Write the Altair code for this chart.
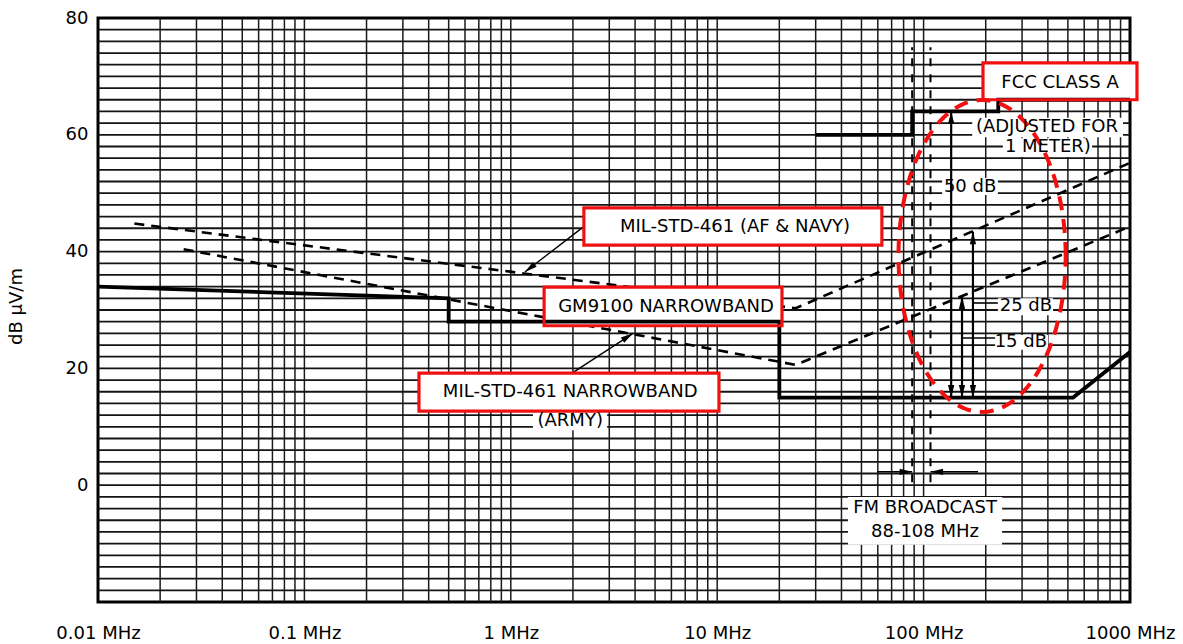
import math
import numpy as np
import pandas as pd
import altair as alt

# Plot area and axis ranges
W, H = 1032, 584
F_MIN, F_MAX = 0.01, 1000.0        # MHz
DB_MIN, DB_MAX = -20, 80           # dB µV/m
FONT = "DejaVu Sans"

# ---- limit curves (frequency in MHz, level in dB µV/m) ----
gm_f = [0.01, 0.5, 0.5, 20, 20, 530, 1000]
gm_db = [34, 32, 28, 28, 15, 15, 22.8]

af_navy_f = [0.015, 24, 1000]
af_navy_db = [44.8, 30.3, 55.2]

army_f = [0.026, 24, 1000]
army_db = [40.4, 20.6, 44.3]

fcc_f = [30, 88, 88, 230, 230, 1000]
fcc_db = [60, 60, 64, 64, 66, 66]

# FM broadcast band edges (MHz)
fm_band = [88, 108]
fm_top_db, fm_bottom_db = 75, 0.5

# ---- axis ticks / grid ----
x_label_vals = [0.01, 0.1, 1, 10, 100, 1000]
y_label_vals = [0, 20, 40, 60, 80]
grid_f = [k * 10.0 ** e for e in range(-2, 3) for k in range(1, 10)][1:]
grid_db = list(range(-18, 80, 2))

# ---- margin arrows: (f, db_top, db_bottom) ----
span_f = [136, 153.5, 173.4]
span_top_db = [64, 32.3, 43.4]
span_bottom_db = [15, 15, 15]

# ---- annotation boxes (red frames) ----
box_f1 = [2.26, 1.45, 0.359, 194]
box_f2 = [62.8, 20.6, 10.2, 1081]
box_d1 = [41.1, 27.3, 12.7, 66.0]
box_d2 = [47.5, 33.9, 19.2, 72.3]

# ---- white backgrounds behind free-standing text ----
bg_f1 = [1.28, 172, 242, 43.0, 123, 229, 222]
bg_f2 = [2.93, 925, 655, 240, 229, 424, 401]
bg_d1 = [9.4, 59.6, 56.2, -10.2, 49.7, 29.1, 23.2]
bg_d2 = [12.4, 62.9, 59.4, -2.0, 52.6, 32.0, 25.7]

# ---- text ----
txt = ["MIL-STD-461 (AF & NAVY)", "GM9100 NARROWBAND", "MIL-STD-461 NARROWBAND",
       "(ARMY)", "FCC CLASS A", "(ADJUSTED FOR", "1 METER)", "50 dB", "25 dB",
       "15 dB", "FM BROADCAST", "88-108 MHz"]
txt_f = [12.2, 5.65, 1.94, 1.94, 458, 396, 400, 168, 313, 296, 101.6, 101.6]
txt_db = [44.2, 30.5, 16.0, 11.0, 68.9, 61.3, 57.9, 51.1, 30.7, 24.5, -3.9, -8.0]

# ---- leader arrows (tail -> head) ----
lead_f1 = [2.24, 1.98]
lead_d1 = [44.2, 19.2]
lead_f2 = [1.17, 3.91]
lead_d2 = [36.5, 26.0]

# ---- highlighted region (ellipse centre / radii) ----
ell_fc, ell_dc = 192, 39.25
ell_rx_dec, ell_ry_db = 0.405, 26.7


def to_px(f, db):
    x = math.log10(f / F_MIN) / math.log10(F_MAX / F_MIN) * W
    y = (DB_MAX - db) / (DB_MAX - DB_MIN) * H
    return x, y


def heading(f1, d1, f2, d2):
    """Clockwise screen angle (deg) of the direction tail->head, 0 = up."""
    x1, y1 = to_px(f1, d1)
    x2, y2 = to_px(f2, d2)
    return math.degrees(math.atan2(x2 - x1, -(y2 - y1))) % 360


xs = alt.Scale(type="log", domain=[F_MIN, F_MAX], nice=False)
ys = alt.Scale(domain=[DB_MIN, DB_MAX], nice=False, zero=False)

X_AXIS = alt.Axis(
    values=x_label_vals, labelExpr="datum.value + ' MHz'", grid=False,
    ticks=False, domain=False, title=None, labelFont=FONT, labelFontSize=18,
    labelPadding=22, labelFlush=False, labelOverlap=False, labelColor="black")
Y_AXIS = alt.Axis(
    values=y_label_vals, grid=False, ticks=False, domain=False,
    title="dB μV/m", titleFont=FONT, titleFontSize=18, titleFontWeight="normal",
    titleX=-82, titleY=288, titleBaseline="middle", titleColor="black",
    labelFont=FONT, labelFontSize=18, labelPadding=10, labelFlush=False,
    labelColor="black")

X = lambda f: alt.X(f, type="quantitative", scale=xs, axis=X_AXIS)
Y = lambda f: alt.Y(f, type="quantitative", scale=ys, axis=Y_AXIS)


def path_df(fs, dbs):
    return pd.DataFrame({"f": fs, "db": dbs, "i": range(len(fs))})


def line_layer(df, width, color="black", dash=None):
    kw = dict(strokeWidth=width, color=color, strokeCap="butt", strokeJoin="miter")
    if dash:
        kw["strokeDash"] = dash
    return alt.Chart(df).mark_line(**kw).encode(x=X("f"), y=Y("db"), order="i:Q")


# grid
vgrid = alt.Chart(pd.DataFrame({"f": grid_f})).mark_rule(
    color="#1c1c1c", strokeWidth=1.5
).encode(x=X("f"))
hgrid = alt.Chart(pd.DataFrame({"db": grid_db})).mark_rule(
    color="#141414", strokeWidth=1.8
).encode(y=Y("db"))

bg = alt.Chart(pd.DataFrame({"f1": bg_f1, "f2": bg_f2, "d1": bg_d1, "d2": bg_d2})).mark_rect(
    fill="white"
).encode(x=X("f1"), x2="f2", y=Y("d1"), y2="d2")

af_line = line_layer(path_df(af_navy_f, af_navy_db), 2.6, dash=[10, 7])
army_line = line_layer(path_df(army_f, army_db), 2.6, dash=[10, 7])

boxes_df = pd.DataFrame({"f1": box_f1, "f2": box_f2, "d1": box_d1, "d2": box_d2})
box_fill = alt.Chart(boxes_df).mark_rect(fill="white").encode(
    x=X("f1"), x2="f2", y=Y("d1"), y2="d2")
box_frame = alt.Chart(boxes_df).mark_rect(
    fill=None, stroke="#f01010", strokeWidth=3.2, filled=False
).encode(x=X("f1"), x2="f2", y=Y("d1"), y2="d2")

gm_line = line_layer(path_df(gm_f, gm_db), 3.8)
fcc_line = line_layer(path_df(fcc_f, fcc_db), 3.8)

fm_lines = alt.Chart(pd.DataFrame({"f": fm_band, "d1": [fm_bottom_db] * 2, "d2": [fm_top_db] * 2})).mark_rule(
    color="black", strokeWidth=2, strokeDash=[8, 8]
).encode(x=X("f"), y=Y("d1"), y2="d2")

# straight arrow shafts: FM band pointers, margin spans, dB label leaders, annotation leaders
fm_arrow_y = 2.3
seg_f1 = [59.5, 183.5] + span_f + [173.4, 153.5] + lead_f1
seg_f2 = [fm_band[0], fm_band[1]] + span_f + [229, 222] + lead_f2
seg_d1 = [fm_arrow_y, fm_arrow_y] + span_bottom_db + [31.2, 25.2] + lead_d1
seg_d2 = [fm_arrow_y, fm_arrow_y] + span_top_db + [31.2, 25.2] + lead_d2
seg_w = [1.6, 1.6, 2.2, 2.2, 2.2, 1.6, 1.6, 1.4, 1.4]
segs = alt.Chart(pd.DataFrame({"f1": seg_f1, "f2": seg_f2, "d1": seg_d1, "d2": seg_d2, "w": seg_w})).mark_rule(
    color="black"
).encode(x=X("f1"), x2="f2", y=Y("d1"), y2="d2",
         strokeWidth=alt.StrokeWidth("w:Q", scale=None))

# arrowheads: tip at the data point, rotated towards travel direction
head_f, head_d, head_a = [], [], []
for f1, d1, f2, d2 in [(59.5, fm_arrow_y, fm_band[0], fm_arrow_y),
                       (183.5, fm_arrow_y, fm_band[1], fm_arrow_y)]:
    head_f.append(f2); head_d.append(d2); head_a.append(heading(f1, d1, f2, d2))
for f, top, bot in zip(span_f, span_top_db, span_bottom_db):
    head_f += [f, f]; head_d += [top, bot]; head_a += [0, 180]
for f1, d1, f2, d2 in zip(lead_f1, lead_d1, lead_f2, lead_d2):
    head_f.append(f2); head_d.append(d2); head_a.append(heading(f1, d1, f2, d2))

ARROW = "M0,0 L-0.55,2.2 L0.55,2.2 Z"
heads = alt.Chart(pd.DataFrame({"f": head_f, "db": head_d, "a": head_a})).mark_point(
    shape=ARROW, filled=True, size=130, color="black", opacity=1, strokeWidth=0.5
).encode(x=X("f"), y=Y("db"), angle=alt.Angle("a:Q", scale=None))

# highlighted region
t = np.linspace(0, 2 * np.pi, 241)
ell = pd.DataFrame({
    "f": 10 ** (np.log10(ell_fc) + ell_rx_dec * np.cos(t)),
    "db": ell_dc + ell_ry_db * np.sin(t),
    "i": np.arange(len(t)),
})
ellipse = line_layer(ell, 4, color="#f01010", dash=[14, 9])

labels = alt.Chart(pd.DataFrame({"f": txt_f, "db": txt_db, "t": txt})).mark_text(
    font=FONT, fontSize=18, align="center", baseline="middle", color="black"
).encode(x=X("f"), y=Y("db"), text="t:N")

chart = alt.layer(
    vgrid, hgrid, bg, af_line, army_line, box_fill, gm_line, fcc_line,
    fm_lines, segs, heads, ellipse, box_frame, labels
).properties(
    width=W, height=H,
    padding={"left": 98, "top": 18, "right": 53, "bottom": 42},
    autosize=alt.AutoSizeParams(type="none"),
    background="white",
).configure_view(stroke="black", strokeWidth=3)

chart.save("out.html", embed_options={"renderer": "svg", "actions": False})
